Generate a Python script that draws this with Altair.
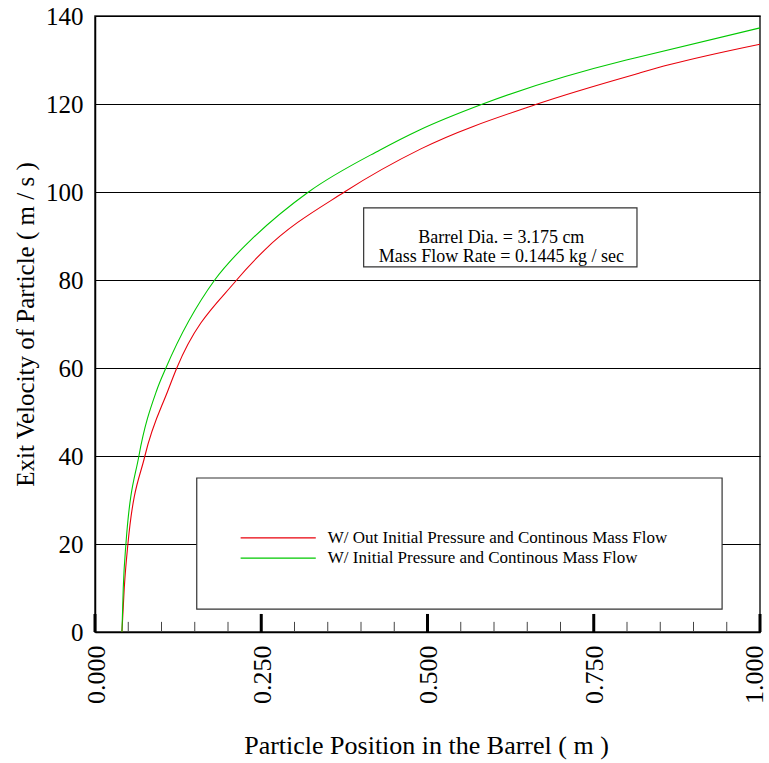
import altair as alt
import pandas as pd

# ---- data ----
series_names = [
    "W/ Out Initial Pressure and Continous Mass Flow",
    "W/ Initial Pressure and Continous Mass Flow",
]
series_colors = ["#e8000b", "#00c800"]

red_x = [0.0405, 0.044, 0.0495, 0.075, 0.110, 0.123, 0.213, 0.255, 0.375, 0.490, 0.665, 0.818, 0.863, 1.0]
red_v = [0.0, 10.0, 20.0, 40.0, 55.0, 60.0, 80.0, 86.8, 100.0, 109.8, 120.0, 127.0, 128.9, 133.6]

green_x = [0.0405, 0.0425, 0.0465, 0.066, 0.093, 0.1066, 0.180, 0.219, 0.233, 0.321, 0.428, 0.488, 0.583, 0.799, 0.818, 1.0]
green_v = [0.0, 10.0, 20.0, 40.0, 55.0, 60.0, 80.0, 86.8, 88.9, 100.0, 109.5, 114.1, 120.0, 130.0, 130.7, 137.3]

y_ticks = [0, 20, 40, 60, 80, 100, 120, 140]
x_major = [0.0, 0.25, 0.5, 0.75, 1.0]
x_minor = [0.05, 0.10, 0.15, 0.20, 0.30, 0.35, 0.40, 0.45, 0.55, 0.60, 0.65, 0.70, 0.80, 0.85, 0.90, 0.95]

note_lines = ["Barrel Dia. = 3.175 cm", "Mass Flow Rate = 0.1445 kg / sec"]
x_title = "Particle Position in the Barrel ( m )"
y_title = "Exit Velocity of Particle ( m / s )"

FONT = "Liberation Serif"

curves = pd.concat([
    pd.DataFrame({"x": red_x, "v": red_v, "series": series_names[0]}),
    pd.DataFrame({"x": green_x, "v": green_v, "series": series_names[1]}),
])

xs = alt.Scale(domain=[0, 1], nice=False, zero=False)
ys = alt.Scale(domain=[0, 140], nice=False)
color_scale = alt.Scale(domain=series_names, range=series_colors)

x_axis = alt.Axis(
    values=x_major, format=".3f", labelAngle=270, labelFont=FONT, labelFontSize=26,
    labelPadding=13, labelFlush=False, labelOverlap=False, labelColor="black",
    labelOffset={"condition": {"test": "datum.value >= 1", "value": -6}, "value": 1},
    ticks=False, grid=False, domainColor="black", domainWidth=1.5,
    title=x_title, titleFont=FONT, titleFontSize=26, titleFontWeight="normal",
    titleColor="black", titleX=331, titleY=113, titleBaseline="middle", titleAlign="center",
)
y_axis = alt.Axis(
    values=y_ticks, labelFont=FONT, labelFontSize=25, labelPadding=12, labelColor="black",
    ticks=False, grid=True, gridColor="black", gridWidth=1, gridOpacity=1,
    domainColor="black", domainWidth=1.5,
    title=y_title, titleFont=FONT, titleFontSize=25, titleFontWeight="normal",
    titleColor="black", titleX=-70, titleY=308, titleAngle=270,
    titleBaseline="middle", titleAlign="center",
)


def xd(v):
    return alt.datum(v, scale=xs, axis=x_axis, type="quantitative")


def yd(v):
    return alt.datum(v, scale=ys, axis=y_axis, type="quantitative")


one = pd.DataFrame({"a": [0]})

lines = alt.Chart(curves).mark_line(
    strokeWidth=1.1, interpolate="monotone", orient="horizontal"
).encode(
    x=alt.X("x:Q", scale=xs, axis=x_axis),
    y=alt.Y("v:Q", scale=ys, axis=y_axis),
    color=alt.Color("series:N", scale=color_scale, legend=None),
    detail="series:N",
    order=alt.Order("v:Q"),
)

major = alt.Chart(pd.DataFrame({"x": x_major})).mark_rule(strokeWidth=3, color="black").encode(
    x=alt.X("x:Q", scale=xs, axis=x_axis),
    y=yd(0),
    y2=alt.datum(4.1),
)
minor = alt.Chart(pd.DataFrame({"x": x_minor})).mark_rule(strokeWidth=1, color="#444").encode(
    x=alt.X("x:Q", scale=xs, axis=x_axis),
    y=yd(0),
    y2=alt.datum(2.3),
)

note_box = alt.Chart(one).mark_rect(fill="white", stroke="#333", strokeWidth=1.2).encode(
    x=xd(0.404), x2=alt.datum(0.815),
    y=yd(96.4), y2=alt.datum(83.0),
)
note_text = alt.Chart(one).mark_text(
    text=note_lines, font=FONT, fontSize=18, lineHeight=19, align="center",
    baseline="middle", color="black",
).encode(x=xd(0.611), y=yd(89.6))

legend_box = alt.Chart(one).mark_rect(fill="white", stroke="#333", strokeWidth=1.2).encode(
    x=xd(0.153), x2=alt.datum(0.943),
    y=yd(35.0), y2=alt.datum(5.2),
)

legend_layers = []
for name, col, yy in zip(series_names, series_colors, [21.4, 16.8]):
    legend_layers.append(
        alt.Chart(one).mark_rule(color=col, strokeWidth=1.1).encode(
            x=xd(0.219), x2=alt.datum(0.332), y=yd(yy),
        )
    )
    legend_layers.append(
        alt.Chart(one).mark_text(
            text=name, font=FONT, fontSize=17, align="left", baseline="middle", color="black"
        ).encode(x=xd(0.350), y=yd(yy))
    )

chart = alt.layer(
    lines, minor, major, note_box, note_text, legend_box, *legend_layers
).properties(
    width=665, height=616,
    padding={"left": 95, "top": 16, "right": 9, "bottom": 131},
    autosize=alt.AutoSizeParams(type="none"),
    background="white",
).configure(font=FONT).configure_view(stroke="#222", strokeWidth=1.5)

chart.save("out.html", embed_options={"renderer": "svg", "actions": False})
